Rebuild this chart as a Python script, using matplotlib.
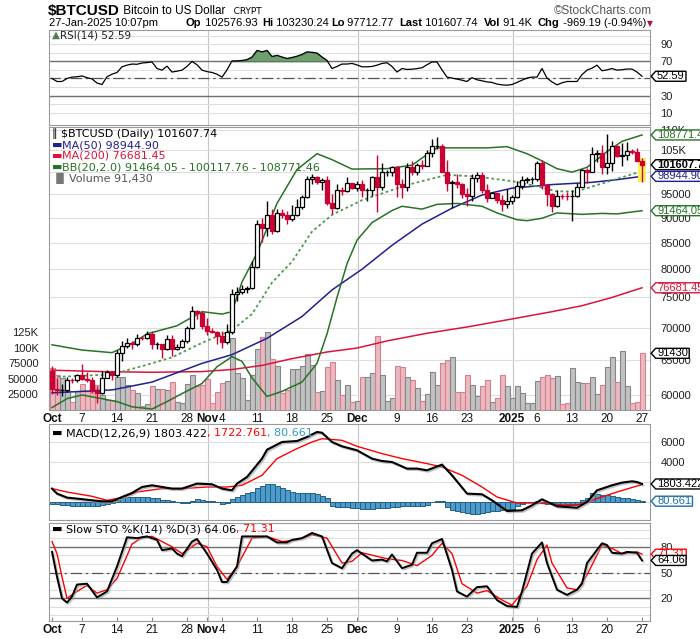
"""
$BTCUSD daily chart in StockCharts style
RSI / candles + MAs + Bollinger bands + volume / MACD / slow stochastics
"""
import matplotlib
matplotlib.use('Agg')  # no display
import matplotlib.pyplot as plt
from matplotlib.path import Path
from matplotlib.ticker import NullLocator
import matplotlib.patheffects as pe
import numpy as np

# ---------------- data (Oct 1 2024 .. Jan 27 2025, one entry per day) ----------------
opens = [63330, 60810, 60630, 60750, 62090, 62060, 62820, 62220, 62130, 60580, 60270, 62440, 63190, 62850,
         66080, 67040, 67620, 67400, 68420, 68370, 69000, 67370, 67380, 66690, 68200, 66640, 67020, 67940,
         69910, 72720, 72340,
         70220, 69480, 69360, 68730, 67810, 69360, 75640, 75900, 76550, 76680, 80470, 88700, 87960, 90580,
         87250, 91070, 90590, 89840, 90540, 92310, 94290, 98320, 98890, 97740, 98010, 93100, 91960, 95870,
         95640, 97460,
         96410, 97190, 95840, 96000, 98770, 96600, 99920, 99930, 101170, 97320, 96650, 101130, 100040,
         101460, 101370, 104300, 106030, 106140, 100040, 97490, 97760, 97220, 95100, 94690, 98680, 99310,
         95800, 94200, 95160, 93690, 92780,
         93430, 94420, 96890, 98110, 98240, 98310, 102080, 96950, 95040, 92480, 94700, 94570, 94490, 94520,
         96530, 100500, 99990, 104080, 104440, 101090, 102020, 106140, 103650, 103960, 104820, 104710, 102577]
highs = [64130, 62370, 61470, 62480, 62370, 62980, 64470, 63190, 62530, 61270, 63400, 63470, 63270, 66480,
         67890, 68380, 67920, 68970, 68670, 69460, 69500, 67810, 67380, 68800, 68790, 67450, 68270, 70230,
         73580, 72960, 72650,
         71560, 70000, 69400, 69400, 70530, 76400, 76850, 77200, 76920, 81470, 89600, 89940, 93480, 91790,
         91860, 91770, 91450, 92650, 94000, 94860, 98980, 99590, 98980, 98550, 98940, 94970, 97320, 96620,
         98690, 97460,
         97840, 98130, 96300, 99000, 103900, 101900, 100500, 101360, 101200, 98280, 101900, 102500, 101900,
         102620, 105050, 107780, 108270, 106480, 102800, 98100, 99540, 97400, 96420, 99420, 99960, 99960,
         97300, 95500, 95170, 94900, 96150,
         94900, 97800, 98960, 98730, 98800, 102500, 102710, 97260, 95350, 95840, 95000, 95400, 95900, 97350,
         100680, 100780, 105850, 104990, 106300, 109100, 107250, 106400, 106880, 107120, 105290, 105480, 103230]
lows = [60180, 59990, 59830, 60470, 61690, 61830, 62150, 61850, 60330, 58900, 60080, 62440, 62050, 62450,
        64820, 66770, 66700, 67170, 68020, 68160, 66590, 66590, 65260, 66550, 65530, 66500, 66800, 67600,
        69730, 71440, 69700,
        68800, 69080, 67480, 66810, 67450, 69060, 74460, 75600, 75750, 76450, 80220, 85070, 86250, 86670,
        87100, 90050, 88740, 89300, 90400, 91800, 94130, 97240, 97240, 95800, 92650, 90790, 91810, 94730,
        95440, 96150,
        95700, 94390, 93580, 94700, 91100, 95980, 99100, 98920, 94300, 94250, 95730, 99350, 99220, 100640,
        101260, 103320, 105320, 100050, 95700, 92000, 96420, 94200, 92400, 93440, 97600, 95140, 93250,
        94100, 93050, 91320, 92050,
        92820, 94250, 96220, 97520, 97300, 97960, 96130, 92520, 91230, 92250, 93850, 93720, 89260, 94320,
        96500, 97340, 99990, 102300, 99570, 99500, 100130, 103380, 101240, 102800, 104110, 102520, 97713]
closes = [60810, 60630, 60750, 62090, 62060, 62820, 62220, 62130, 60580, 60270, 62440, 63190, 62850, 66080,
          67040, 67620, 67400, 68420, 68370, 69000, 67370, 67380, 66690, 68200, 66640, 67020, 67940, 69910,
          72720, 72340, 70220,
          69480, 69360, 68730, 67810, 69360, 75640, 75900, 76550, 76680, 80470, 88700, 87960, 90580, 87250,
          91070, 90590, 89840, 90540, 92310, 94290, 98320, 98890, 97740, 98010, 93100, 91960, 95870, 95640,
          97460, 96410,
          97190, 95840, 96000, 98770, 96600, 99920, 99930, 101170, 97320, 96650, 101130, 100040, 101460,
          101370, 104300, 106030, 106140, 100040, 97490, 97760, 97220, 95100, 94690, 98680, 99310, 95800,
          94200, 95160, 93690, 92780, 93430,
          94420, 96890, 98110, 98240, 98310, 102080, 96950, 95040, 92480, 94700, 94570, 94490, 94520, 96530,
          100500, 99990, 104080, 104440, 101090, 102020, 106140, 103650, 103960, 104820, 104710, 102577, 101608]
volume = [67000, 56000, 51000, 30000, 13000, 30000, 42000, 31000, 40000, 40000, 24000, 16000, 16000, 54000,
          53000, 40000, 32000, 27000, 7000, 10000, 38000, 34000, 34000, 32000, 45000, 13000, 12000, 42000,
          57000, 39000, 41000,
          50000, 11000, 29000, 43000, 47000, 116000, 59000, 51000, 16000, 56000, 98000, 117000, 126000, 82000,
          71000, 27000, 32000, 66000, 66000, 71000, 90000, 72000, 29000, 30000, 70000, 77000, 48000, 24000,
          40000, 13000,
          15000, 53000, 53000, 59000, 119000, 57000, 15000, 19000, 71000, 69000, 54000, 48000, 35000, 15000,
          25000, 61000, 41000, 75000, 81000, 85000, 29000, 29000, 57000, 41000, 22000, 39000, 48000, 13000,
          19000, 57000, 39000,
          19000, 38000, 28000, 11000, 11000, 46000, 54000, 57000, 51000, 55000, 9000, 11000, 67000, 45000,
          43000, 43000, 54000, 25000, 41000, 69000, 85000, 45000, 95000, 39000, 12000, 13000, 91430]

# overlays: (day index, value)
ma50_pts = [(0, 60300), (12, 60700), (20, 61800), (30, 64500), (36, 65800), (43, 68300), (50, 71800),
            (56, 76300), (62, 80000), (68, 84500), (74, 88700), (80, 92000), (86, 94800), (92, 96300),
            (100, 97100), (108, 97600), (113, 98200), (118, 98945)]
ma200_pts = [(0, 63500), (10, 63300), (20, 63200), (30, 63300), (36, 63600), (42, 64200), (48, 65200),
             (55, 66200), (61, 66800), (67, 67900), (75, 69100), (83, 70100), (92, 71400), (100, 72600),
             (106, 73600), (112, 75000), (118, 76681)]
bb_up_pts = [(0, 67300), (6, 66500), (12, 66100), (16, 67500), (19, 69000), (25, 70300), (30, 72600),
             (34, 72200), (36, 72600), (38, 77700), (41, 83000), (45, 93000), (49, 100500), (53, 104200),
             (56, 102800), (60, 100600), (67, 100700), (72, 101500), (75, 104000), (77, 105600), (87, 105600),
             (91, 105900), (95, 104200), (98, 102500), (101, 100700), (104, 99900), (107, 101000),
             (111, 104700), (114, 107200), (118, 108771)]
bb_mid_pts = [(0, 62500), (12, 62900), (19, 64300), (24, 65400), (30, 67600), (36, 69600), (40, 72200),
              (44, 77600), (48, 81400), (52, 87200), (56, 90600), (62, 93700), (71, 97000), (79, 99300),
              (85, 98900), (93, 97700), (97, 96700), (101, 95600), (105, 95600), (111, 97700), (118, 100118)]
bb_lo_pts = [(0, 58300), (3, 59500), (6, 60000), (10, 59500), (13, 59100), (16, 58400), (20, 58100),
             (23, 59100), (26, 60200), (30, 61600), (33, 64000), (36, 65500), (38, 64800), (40, 62400),
             (43, 59800), (46, 60500), (50, 61800), (53, 64500), (55, 69000), (57, 75000), (59, 81000),
             (61, 85500), (64, 89000), (68, 91500), (70, 92400), (74, 91800), (77, 92800), (81, 93000),
             (86, 92400), (89, 91000), (93, 89600), (95, 89400), (98, 89900), (101, 91000), (106, 90700),
             (110, 90900), (113, 90800), (118, 91464)]

rsi = [50, 46.5, 46.5, 50, 51.6, 52, 53, 51, 49.5, 44.7,
       43, 52, 55, 57, 63.6, 65.5, 66.8, 66.5, 68, 68.5,
       69.2, 61.6, 59.7, 64.4, 57.5, 58.5, 59.7, 64, 69.8, 66,
       59.7, 58, 57, 55, 51.6, 60, 70.5, 70.5, 71, 72,
       75, 82.7, 81, 82.7, 75.6, 77, 75, 73.3, 74.5, 76,
       78, 81, 80.5, 79.6, 75, 71, 61.6, 64, 66.8, 66.8,
       67.5, 65.8, 63.6, 63.6, 64, 65.5, 67.5, 68.3, 64, 57.5,
       61.6, 60.5, 60.8, 61.5, 62.5, 66, 69.2, 69.2, 60, 51.6,
       50.5, 49.3, 48, 46.5, 51, 48.5, 47.3, 46, 45.4, 43.5,
       42.6, 42.2, 43, 45.4, 48, 50.5, 51.6, 51.6, 61.6, 50.5,
       46, 42.6, 45, 46.5, 46.5, 46.5, 54.5, 59.7, 62, 65.5,
       59, 60, 61.6, 59.7, 60.2, 61, 61, 57.5, 52.59]

macd_pts = [(0, 1340), (1, 840), (3, 440), (5, 340), (8, 170), (10, 70), (12, 70), (14, 500), (16, 900),
            (18, 1500), (20, 1670), (24, 1340), (26, 1340), (29, 1840), (32, 1770), (34, 1340), (36, 1170),
            (37, 1840), (39, 2500), (42, 4340), (43, 5230), (46, 6000), (49, 6100), (51, 6500), (53, 7000),
            (54, 6930), (56, 6000), (58, 5570), (61, 5170), (64, 4340), (66, 4100), (68, 4000), (71, 3340),
            (73, 3340), (75, 3170), (78, 3740), (80, 2670), (83, 840), (86, 770), (88, 170), (91, -900),
            (94, -830), (96, -330), (98, 270), (101, -430), (105, -570), (107, 0), (109, 1170), (112, 1670),
            (114, 1940), (116, 2070), (117, 2000), (118, 1803.422)]
signal_pts = [(0, 1340), (3, 1000), (8, 570), (11, 170), (14, 440), (17, 1000), (22, 1340), (26, 1340),
              (31, 1500), (35, 1500), (38, 1670), (42, 2670), (45, 4340), (49, 5340), (52, 6000), (54, 6330),
              (58, 6170), (61, 5570), (66, 4840), (70, 4340), (75, 3840), (78, 3500), (82, 2670), (86, 1500),
              (89, 500), (93, -100), (96, -100), (99, -170), (103, -330), (105, -330), (109, 340),
              (113, 1000), (117, 1600), (118, 1722.761)]
macd_hist = [-150, -230, -280, -330, -380, -400, -400, -380, -380, -350, -300, -200, -50, 200, 380, 480,
             530, 530, 530, 500, 450, 380, 250, 170, 100, -30, -70, -50, 150, 270, 220, 150, 100, 50,
             -170, -100, 270, 500, 750, 870, 1000, 1400, 1650, 1830, 1800, 1600, 1430, 1200,
             1000, 900, 870, 870, 870, 770, 600, 430, -400, -470, -470, -500, -550,
             -600, -670, -670, -650, -600, -570, -550, -500, -470, -430, -400, -400, -380, -350, -300,
             50, 100, 80, -500, -750, -900, -1000, -1100, -1170, -1170, -1100, -1000, -900, -850,
             -780, -730, -650, -400, -230, 0, 50, 80, -100, -200, -230, -250, -250, -230, -200, -150,
             200, 430, 870, 800, 750, 670, 600, 500, 400, 370, 300, 180, 80.661]

sto_k_pts = [(0, 74), (1, 45), (2, 20), (3, 15), (4, 22), (5, 36), (7, 37), (9, 21), (11, 28), (13, 57),
             (15, 91), (17, 90), (19, 92), (21, 88), (22, 76), (24, 78), (25, 72), (26, 69), (28, 86),
             (29, 89), (31, 72), (33, 53), (34, 39), (35, 39), (37, 57), (38, 92), (43, 92), (45, 85),
             (47, 85), (48, 88), (50, 90), (52, 96), (54, 92), (56, 61), (58, 55), (60, 72), (61, 76),
             (64, 64), (66, 65), (67, 63), (68, 71), (70, 55), (72, 59), (73, 73), (75, 73), (76, 84),
             (78, 89), (80, 53), (81, 28), (83, 22), (85, 33), (87, 34), (89, 18), (91, 11), (93, 10),
             (94, 28), (96, 72), (98, 85), (99, 61), (101, 30), (103, 24), (105, 30), (106, 37), (107, 61),
             (110, 84), (111, 82), (112, 73), (114, 72), (115, 74), (117, 73), (118, 64.06)]
sto_d_pts = [(0, 86), (1, 72), (2, 45), (3, 20), (5, 28), (7, 35), (9, 26), (11, 30), (13, 43), (16, 83),
             (18, 91), (20, 92), (24, 80), (26, 72), (29, 84), (31, 80), (33, 57), (35, 42), (37, 57),
             (40, 90), (43, 92), (46, 86), (49, 88), (52, 94), (55, 90), (58, 61), (60, 63), (62, 73),
             (67, 66), (70, 64), (73, 58), (76, 70), (78, 84), (80, 72), (82, 37), (85, 26), (87, 29),
             (90, 18), (92, 12), (95, 34), (97, 65), (99, 82), (100, 61), (103, 32), (105, 30), (107, 47),
             (110, 82), (112, 78), (114, 72), (117, 74), (118, 71.31)]

tick_pos = [0, 6, 13, 20, 27, 31, 34, 41, 48, 55, 61, 69, 76, 83, 92, 97, 104, 111, 118]
tick_lbl = ['Oct', '7', '14', '21', '28', 'Nov', '4', '11', '18', '25', 'Dec', '9', '16', '23',
            '2025', '6', '13', '20', '27']
month_lbl = ['Oct', 'Nov', 'Dec', '2025']

price_ticks = [60000, 65000, 70000, 75000, 80000, 85000, 90000, 95000, 100000, 105000, 110000]
price_lbls = ['60000', '65000', '70000', '75000', '80000', '85000', '90000', '95000', '', '105K', '110K']
vol_ticks = [25000, 50000, 75000, 100000, 125000]
vol_lbls = ['25000', '50000', '75000', '100K', '125K']

# ---------------- look ----------------
W, H = 700, 639
L, PW = 49, 601
plt.rcParams['font.family'] = ['Liberation Sans', 'DejaVu Sans']
FS = 8  # axis label size
RED = '#cc0033'
NAVY = '#202090'
CRIMSON = '#dc143c'
GREEN = '#267326'
GREEN2 = '#4e9a4e'
GRID = '#dedede'
LEG = 'DejaVu Sans'

idx = np.arange(len(closes))
o, h, l, c = (np.array(a, dtype=float) for a in (opens, highs, lows, closes))
prev_c = np.r_[o[0], c[:-1]]
up = c >= prev_c

fig = plt.figure(figsize=(W / 100, H / 100), dpi=100)
fig.patch.set_facecolor('white')


def panel(top, bottom):
    return fig.add_axes([L / W, 1 - bottom / H, PW / W, (bottom - top) / H])


def frame(ax):
    for s in ax.spines.values():
        s.set_color('#9a9a9a')
        s.set_linewidth(0.8)
    ax.tick_params(axis='y', which='both', left=False, right=False, labelleft=False,
                   labelright=True, pad=4, labelsize=FS, labelcolor='#222222')
    ax.tick_params(axis='x', which='both', bottom=False, top=False, labelbottom=False)
    ax.set_xlim(-0.6, 119.6)
    for m, lab in zip(tick_pos, tick_lbl):
        if lab in month_lbl and m > 0:
            ax.axvline(m + 0.2, color='#c4c4c4', lw=0.8, zorder=0.5)


def date_axis(ax):
    ax.set_xticks(tick_pos)
    ax.set_xticklabels(tick_lbl)
    ax.tick_params(axis='x', bottom=True, labelbottom=True, direction='in', length=3,
                   color='#888888', pad=2, labelsize=FS + 0.5, labelcolor='#111111')
    for t in ax.get_xticklabels():
        if t.get_text() in month_lbl:
            t.set_fontweight('bold')


def tag_shape(x0, y0, width, height, mutation_size):
    px = 0.12 * mutation_size
    x0, width = x0 - px, width + 2 * px
    tip = height * 0.45
    verts = [(x0 - tip, y0 + height / 2), (x0, y0), (x0 + width, y0), (x0 + width, y0 + height),
             (x0, y0 + height), (x0 - tip, y0 + height / 2)]
    return Path(verts, closed=True)


def tag(ax, yval, txt, color, weight='normal'):
    ax.text(1 + 7 / PW, yval, txt, transform=ax.get_yaxis_transform(), ha='left', va='center',
            color=color, fontsize=FS, fontweight=weight, clip_on=False, zorder=30,
            bbox=dict(boxstyle=tag_shape, fc='white', ec=color, lw=1))


# ---------------- RSI ----------------
ax_rsi = panel(30, 125)
frame(ax_rsi)
ax_rsi.set_ylim(-4.1, 106.4)
ax_rsi.set_yticks(range(10, 101, 10))
ax_rsi.set_yticklabels(['10', '', '30', '', '', '', '70', '', '90', ''])
ax_rsi.grid(axis='y', color=GRID, lw=0.8)
ax_rsi.axhline(70, color='#707070', lw=1)
ax_rsi.axhline(30, color='#707070', lw=1)
ax_rsi.axhline(50, color='#555555', lw=0.9, ls=(0, (9, 3, 2, 3)))
rsi_a = np.array(rsi)
ax_rsi.fill_between(idx, 70, rsi_a, where=rsi_a >= 70, interpolate=True,
                    facecolor='#6f9f6f', edgecolor='#3f6f3f', lw=0.6, zorder=2)
ax_rsi.plot(idx, rsi_a, color='black', lw=0.9, zorder=3)
tag(ax_rsi, rsi[-1], f'{rsi[-1]:.2f}', 'black')

# ---------------- price panel: grid layer, volume layer, candle layer ----------------
ax_px = panel(127, 410)
frame(ax_px)
ax_px.set_yscale('log')
ax_px.set_ylim(57975, 110770)
ax_px.set_yticks(price_ticks)
ax_px.set_yticklabels(price_lbls)
ax_px.yaxis.set_minor_locator(NullLocator())
ax_px.grid(axis='y', color=GRID, lw=0.8)
date_axis(ax_px)
ax_px.set_zorder(1)

ax_vol = panel(127, 410)
ax_vol.set_zorder(2)
ax_vol.patch.set_visible(False)
for s in ax_vol.spines.values():
    s.set_visible(False)
ax_vol.set_xlim(-0.6, 119.6)
ax_vol.set_ylim(0, 456450)
ax_vol.bar(idx, volume, width=1.0, color=np.where(up, '#c2c2c2', '#ebb9c0'),
           edgecolor=np.where(up, '#858585', '#d4808e'), lw=0.8)
ax_vol.set_yticks(vol_ticks)
ax_vol.set_yticklabels(vol_lbls)
ax_vol.tick_params(axis='y', left=False, labelleft=True, pad=4, labelsize=FS, labelcolor='#222222')
ax_vol.tick_params(axis='x', bottom=False, labelbottom=False)

ax_pr = panel(127, 410)
ax_pr.set_zorder(3)
ax_pr.axis('off')
ax_pr.set_yscale('log')
ax_pr.set_ylim(57975, 110770)
ax_pr.set_xlim(-0.6, 119.6)

for pts, col, ls, lw in [(ma200_pts, CRIMSON, '-', 1.1), (ma50_pts, NAVY, '-', 1.1),
                         (bb_up_pts, GREEN, '-', 1.1), (bb_lo_pts, GREEN, '-', 1.1),
                         (bb_mid_pts, GREEN2, (0, (1.5, 1.5)), 1.3)]:
    xs, ys = zip(*pts)
    ax_pr.plot(xs, ys, color=col, ls=ls, lw=lw, zorder=2)

# yellow highlight on the last bar
ax_pr.bar(idx[-1], h[-1] - l[-1], bottom=l[-1], width=1.6, color='#fff25a', zorder=3)
col = np.where(up, 'black', RED)
ax_pr.vlines(idx, l, h, colors=col, lw=1.0, zorder=4)
ax_pr.bar(idx, np.maximum(np.abs(c - o), 1), bottom=np.minimum(o, c), width=0.62,
          color=np.where(c >= o, 'white', RED), edgecolor=col, lw=0.9, zorder=5)

tag(ax_pr, bb_up_pts[-1][1], '108771.46', GREEN)
tag(ax_pr, closes[-1], '101607.74', 'black', weight='bold')
tag(ax_pr, ma50_pts[-1][1], '98944.90', NAVY)
tag(ax_pr, bb_lo_pts[-1][1], '91464.05', GREEN)
tag(ax_pr, ma200_pts[-1][1], '76681.45', CRIMSON)
tag(ax_vol, volume[-1], '91430', 'black')

# ---------------- MACD ----------------
ax_macd = panel(424, 520)
frame(ax_macd)
ax_macd.set_ylim(-1800, 7800)
ax_macd.set_yticks([0, 2000, 4000, 6000])
ax_macd.set_yticklabels(['', '', '4000', '6000'])
ax_macd.grid(axis='y', color=GRID, lw=0.8)
ax_macd.bar(idx, macd_hist, width=1.0, color='#4d9ccb', edgecolor='#245f85', lw=0.7, zorder=2)
xs, ys = zip(*signal_pts)
ax_macd.plot(xs, ys, color='red', lw=1.0, zorder=3)
xs, ys = zip(*macd_pts)
ax_macd.plot(xs, ys, color='black', lw=1.5, zorder=4,
             path_effects=[pe.SimpleLineShadow(offset=(1, -1), shadow_color='#999999', alpha=0.6),
                           pe.Normal()])
tag(ax_macd, macd_pts[-1][1], '1803.422', 'black')
tag(ax_macd, macd_hist[-1], '80.661', '#1f6fa8')

# ---------------- slow stochastics ----------------
ax_sto = panel(523, 621)
frame(ax_sto)
ax_sto.set_ylim(-6.4, 107.6)
ax_sto.set_yticks(range(0, 101, 10))
ax_sto.set_yticklabels(['', '', '20', '', '', '50', '', '', '80', '', ''])
ax_sto.grid(axis='y', color=GRID, lw=0.8)
ax_sto.axhline(80, color='#707070', lw=1)
ax_sto.axhline(20, color='#707070', lw=1)
ax_sto.axhline(50, color='#555555', lw=0.9, ls=(0, (9, 3, 2, 3)))
xs, ys = zip(*sto_d_pts)
ax_sto.plot(xs, ys, color='red', lw=1.0, zorder=3)
xs, ys = zip(*sto_k_pts)
ax_sto.plot(xs, ys, color='black', lw=1.4, zorder=4,
            path_effects=[pe.SimpleLineShadow(offset=(1, -1), shadow_color='#999999', alpha=0.6),
                          pe.Normal()])
date_axis(ax_sto)
tag(ax_sto, sto_d_pts[-1][1], '71.31', 'red')
tag(ax_sto, sto_k_pts[-1][1], '64.06', 'black')

# ---------------- header and panel legends (pixel coordinates) ----------------
ax_bg = fig.add_axes([0, 0, 1, 1])
ax_bg.set_zorder(10)
ax_bg.axis('off')
ax_bg.set_xlim(0, W)
ax_bg.set_ylim(H, 0)


def chain(x, y, parts, size=8, family=LEG):
    t = None
    for txt, color in parts:
        if t is None:
            t = ax_bg.text(x, y, txt, color=color, fontsize=size, family=family, va='center',
                           ha='left', parse_math=False)
        else:
            t = ax_bg.annotate(txt, xy=(1, 0), xycoords=t, va='bottom', ha='left', color=color,
                               fontsize=size, family=family, parse_math=False)
    return t


t = ax_bg.text(48, 11, '$BTCUSD', fontsize=11, fontweight='bold', va='center', parse_math=False)
t = ax_bg.annotate(' Bitcoin to US Dollar', xy=(1, 0.1), xycoords=t, va='bottom', fontsize=8.5)
ax_bg.annotate('   CRYPT', xy=(1, 0.05), xycoords=t, va='bottom', fontsize=6.5, family=LEG)
ax_bg.text(652, 11, '\u00a9StockCharts.com', fontsize=8.5, color='#555555', ha='right', va='center')
ax_bg.text(49, 23, '27-Jan-2025 10:07pm', fontsize=8, va='center')
for lab, val, x in [('Op', ' 102576.93', 186), ('Hi', ' 103230.24', 262), ('Lo', ' 97712.77', 331),
                    ('Last', ' 101607.74', 399), ('Vol', ' 91.4K', 484), ('Chg', ' -969.19 (-0.94%)', 538)]:
    t = ax_bg.text(x, 23, lab, fontsize=8, fontweight='bold', va='center')
    ax_bg.annotate(val, xy=(1, 0), xycoords=t, va='bottom', fontsize=8)
ax_bg.text(650, 23.5, '\u25bc', fontsize=5.5, color='#b0103a', family=LEG, va='center', ha='center')

chain(52, 35, [('\u25b2', '#4f7f4f'), ('RSI(14) 52.59', '#222222')], size=7.5)
chain(52, 134, [('\u2225 ', 'black'), ('$BTCUSD (Daily) 101607.74', 'black')])
chain(52, 145, [('\u25ac', NAVY), ('MA(50) 98944.90', NAVY)])
chain(52, 156, [('\u25ac', CRIMSON), ('MA(200) 76681.45', CRIMSON)])
chain(52, 167, [('\u25ac', GREEN), ('BB(20,2.0) 91464.05 - 100117.76 - 108771.46', GREEN)])
chain(52, 178, [('\u2590\u258c', '#777777'), ('Volume 91,430', '#555555')])
chain(52, 433, [('\u25ac ', 'black'), ('MACD(12,26,9) 1803.422', 'black'), (', 1722.761', 'red'),
                (', 80.661', '#3399cc')])
chain(52, 529, [('\u25ac ', 'black'), ('Slow STO %K(14) %D(3) 64.06', 'black'), (', 71.31', 'red')])

fig.savefig('out.png', dpi=100, facecolor='white')
